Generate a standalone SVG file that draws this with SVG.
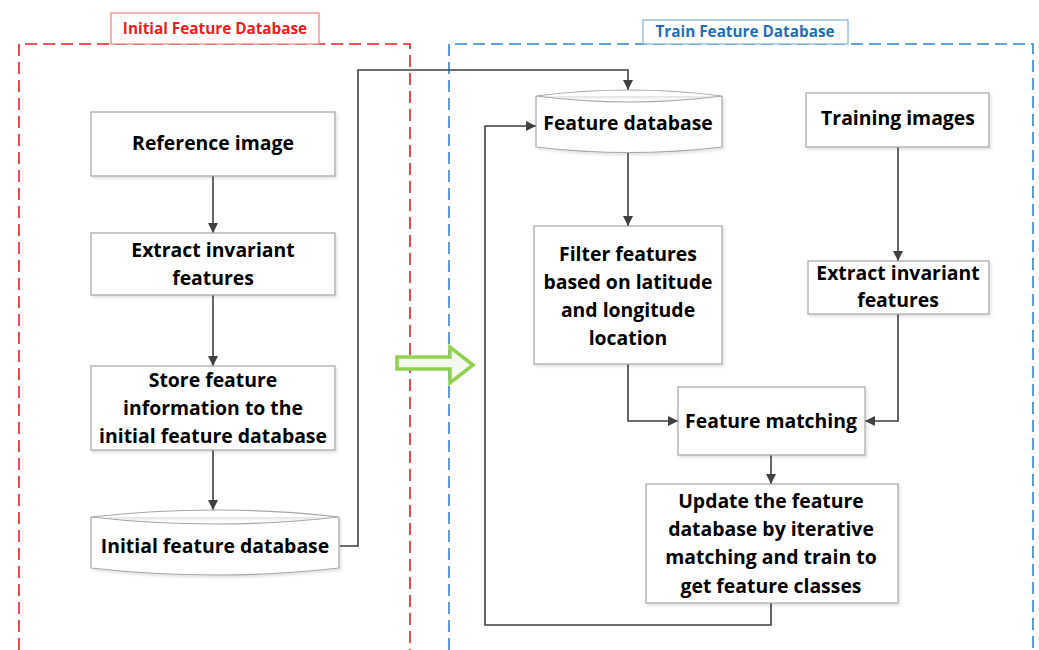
<svg xmlns="http://www.w3.org/2000/svg" width="1039" height="650" viewBox="0 0 1039 650">
<style>
.box{fill:#fff;stroke:#a6a6a6;stroke-width:1.2}
.t{font-family:"Open Sans","Liberation Sans",sans-serif;font-weight:bold;font-size:19.4px;fill:#000;text-anchor:middle}
.con{fill:none;stroke:#404040;stroke-width:1.6}
.lbl{font-family:"Open Sans","Liberation Sans",sans-serif;font-weight:bold;font-size:15.3px;text-anchor:middle}
</style>
<defs>
<marker id="ah" viewBox="0 0 10 10" refX="10" refY="5" markerWidth="10" markerHeight="10" markerUnits="userSpaceOnUse" orient="auto">
<path d="M0,0 L10,5 L0,10 z" fill="#404040"/>
</marker>
<filter id="sh" x="-10%" y="-10%" width="120%" height="130%">
<feDropShadow dx="1.5" dy="2" stdDeviation="1.5" flood-color="#000" flood-opacity="0.12"/>
</filter>
</defs>
<rect width="1039" height="650" fill="#fff"/>

<g id="initial-db-frame">
<path d="M19,650 V44 H410 V650" fill="none" stroke="#ee1c25" stroke-width="1.6" stroke-dasharray="12,6"/>
<rect x="111" y="13" width="208" height="31" fill="#fff" stroke="#f08080" stroke-width="1.2"/>
<text class="lbl" x="215" y="34" fill="#ee1c25">Initial Feature Database</text>
</g>

<g id="train-db-frame">
<path d="M449,650 V44 H1033 V650" fill="none" stroke="#2f86cc" stroke-width="1.6" stroke-dasharray="12,6"/>
<rect x="643" y="20" width="205" height="24" fill="#fff" stroke="#7fb2dd" stroke-width="1.2"/>
<text class="lbl" x="745" y="37" fill="#1f6fb5">Train Feature Database</text>
</g>

<g id="connectors">
<path class="con" d="M213,176 V233" marker-end="url(#ah)"/>
<path class="con" d="M213,295 V366" marker-end="url(#ah)"/>
<path class="con" d="M213,450 V510" marker-end="url(#ah)"/>
<path class="con" d="M340,546 H358 V70 H628 V90" marker-end="url(#ah)"/>
<path class="con" d="M628,152 V226" marker-end="url(#ah)"/>
<path class="con" d="M898,147 V261" marker-end="url(#ah)"/>
<path class="con" d="M628,364 V421 H678" marker-end="url(#ah)"/>
<path class="con" d="M898,314 V421 H865" marker-end="url(#ah)"/>
<path class="con" d="M771,455 V484" marker-end="url(#ah)"/>
<path class="con" d="M771,603 V625 H485 V126 H536" marker-end="url(#ah)"/>
</g>

<g id="green-arrow">
<path d="M397,357 H450 V347 L473,365 L450,383 V369 H397 Z" fill="#f4f9ee" stroke="#92d050" stroke-width="3.5" stroke-linejoin="miter"/>
</g>

<g id="reference-image">
<rect class="box" x="91" y="112" width="244" height="64" filter="url(#sh)"/>
<text class="t" x="213" y="150">Reference image</text>
</g>

<g id="extract-left">
<rect class="box" x="91" y="233" width="244" height="62" filter="url(#sh)"/>
<text class="t" x="213" y="257">Extract invariant</text>
<text class="t" x="213" y="285">features</text>
</g>

<g id="store-feature">
<rect class="box" x="91" y="366" width="244" height="84" filter="url(#sh)"/>
<text class="t" x="213" y="387">Store feature</text>
<text class="t" x="213" y="415">information to the</text>
<text class="t" x="213" y="443">initial feature database</text>
</g>

<g id="initial-feature-database">
<path class="box" d="M91,517 Q215,503 339,517 Q215,531 91,517 Z M91,517 V568 Q215,582 339,568 V517" filter="url(#sh)"/>
<text class="t" x="215" y="553">Initial feature database</text>
</g>

<g id="feature-database">
<path class="box" d="M536,96 Q629,84 722,96 Q629,108 536,96 Z M536,96 V147 Q629,158 722,147 V96" filter="url(#sh)"/>
<text class="t" x="628" y="130">Feature database</text>
</g>

<g id="training-images">
<rect class="box" x="806" y="93" width="183" height="54" filter="url(#sh)"/>
<text class="t" x="898" y="125">Training images</text>
</g>

<g id="extract-right">
<rect class="box" x="808" y="261" width="181" height="53" filter="url(#sh)"/>
<text class="t" x="898" y="280">Extract invariant</text>
<text class="t" x="898" y="307">features</text>
</g>

<g id="filter-features">
<rect class="box" x="534" y="226" width="188" height="138" filter="url(#sh)"/>
<text class="t" x="628" y="261">Filter features</text>
<text class="t" x="628" y="289">based on latitude</text>
<text class="t" x="628" y="317">and longitude</text>
<text class="t" x="628" y="345">location</text>
</g>

<g id="feature-matching">
<rect class="box" x="678" y="387" width="187" height="68" filter="url(#sh)"/>
<text class="t" x="771" y="428">Feature matching</text>
</g>

<g id="update-db">
<rect class="box" x="646" y="484" width="252" height="119" filter="url(#sh)"/>
<text class="t" x="771" y="508">Update the feature</text>
<text class="t" x="771" y="536">database by iterative</text>
<text class="t" x="771" y="564">matching and train to</text>
<text class="t" x="771" y="593">get feature classes</text>
</g>
</svg>
